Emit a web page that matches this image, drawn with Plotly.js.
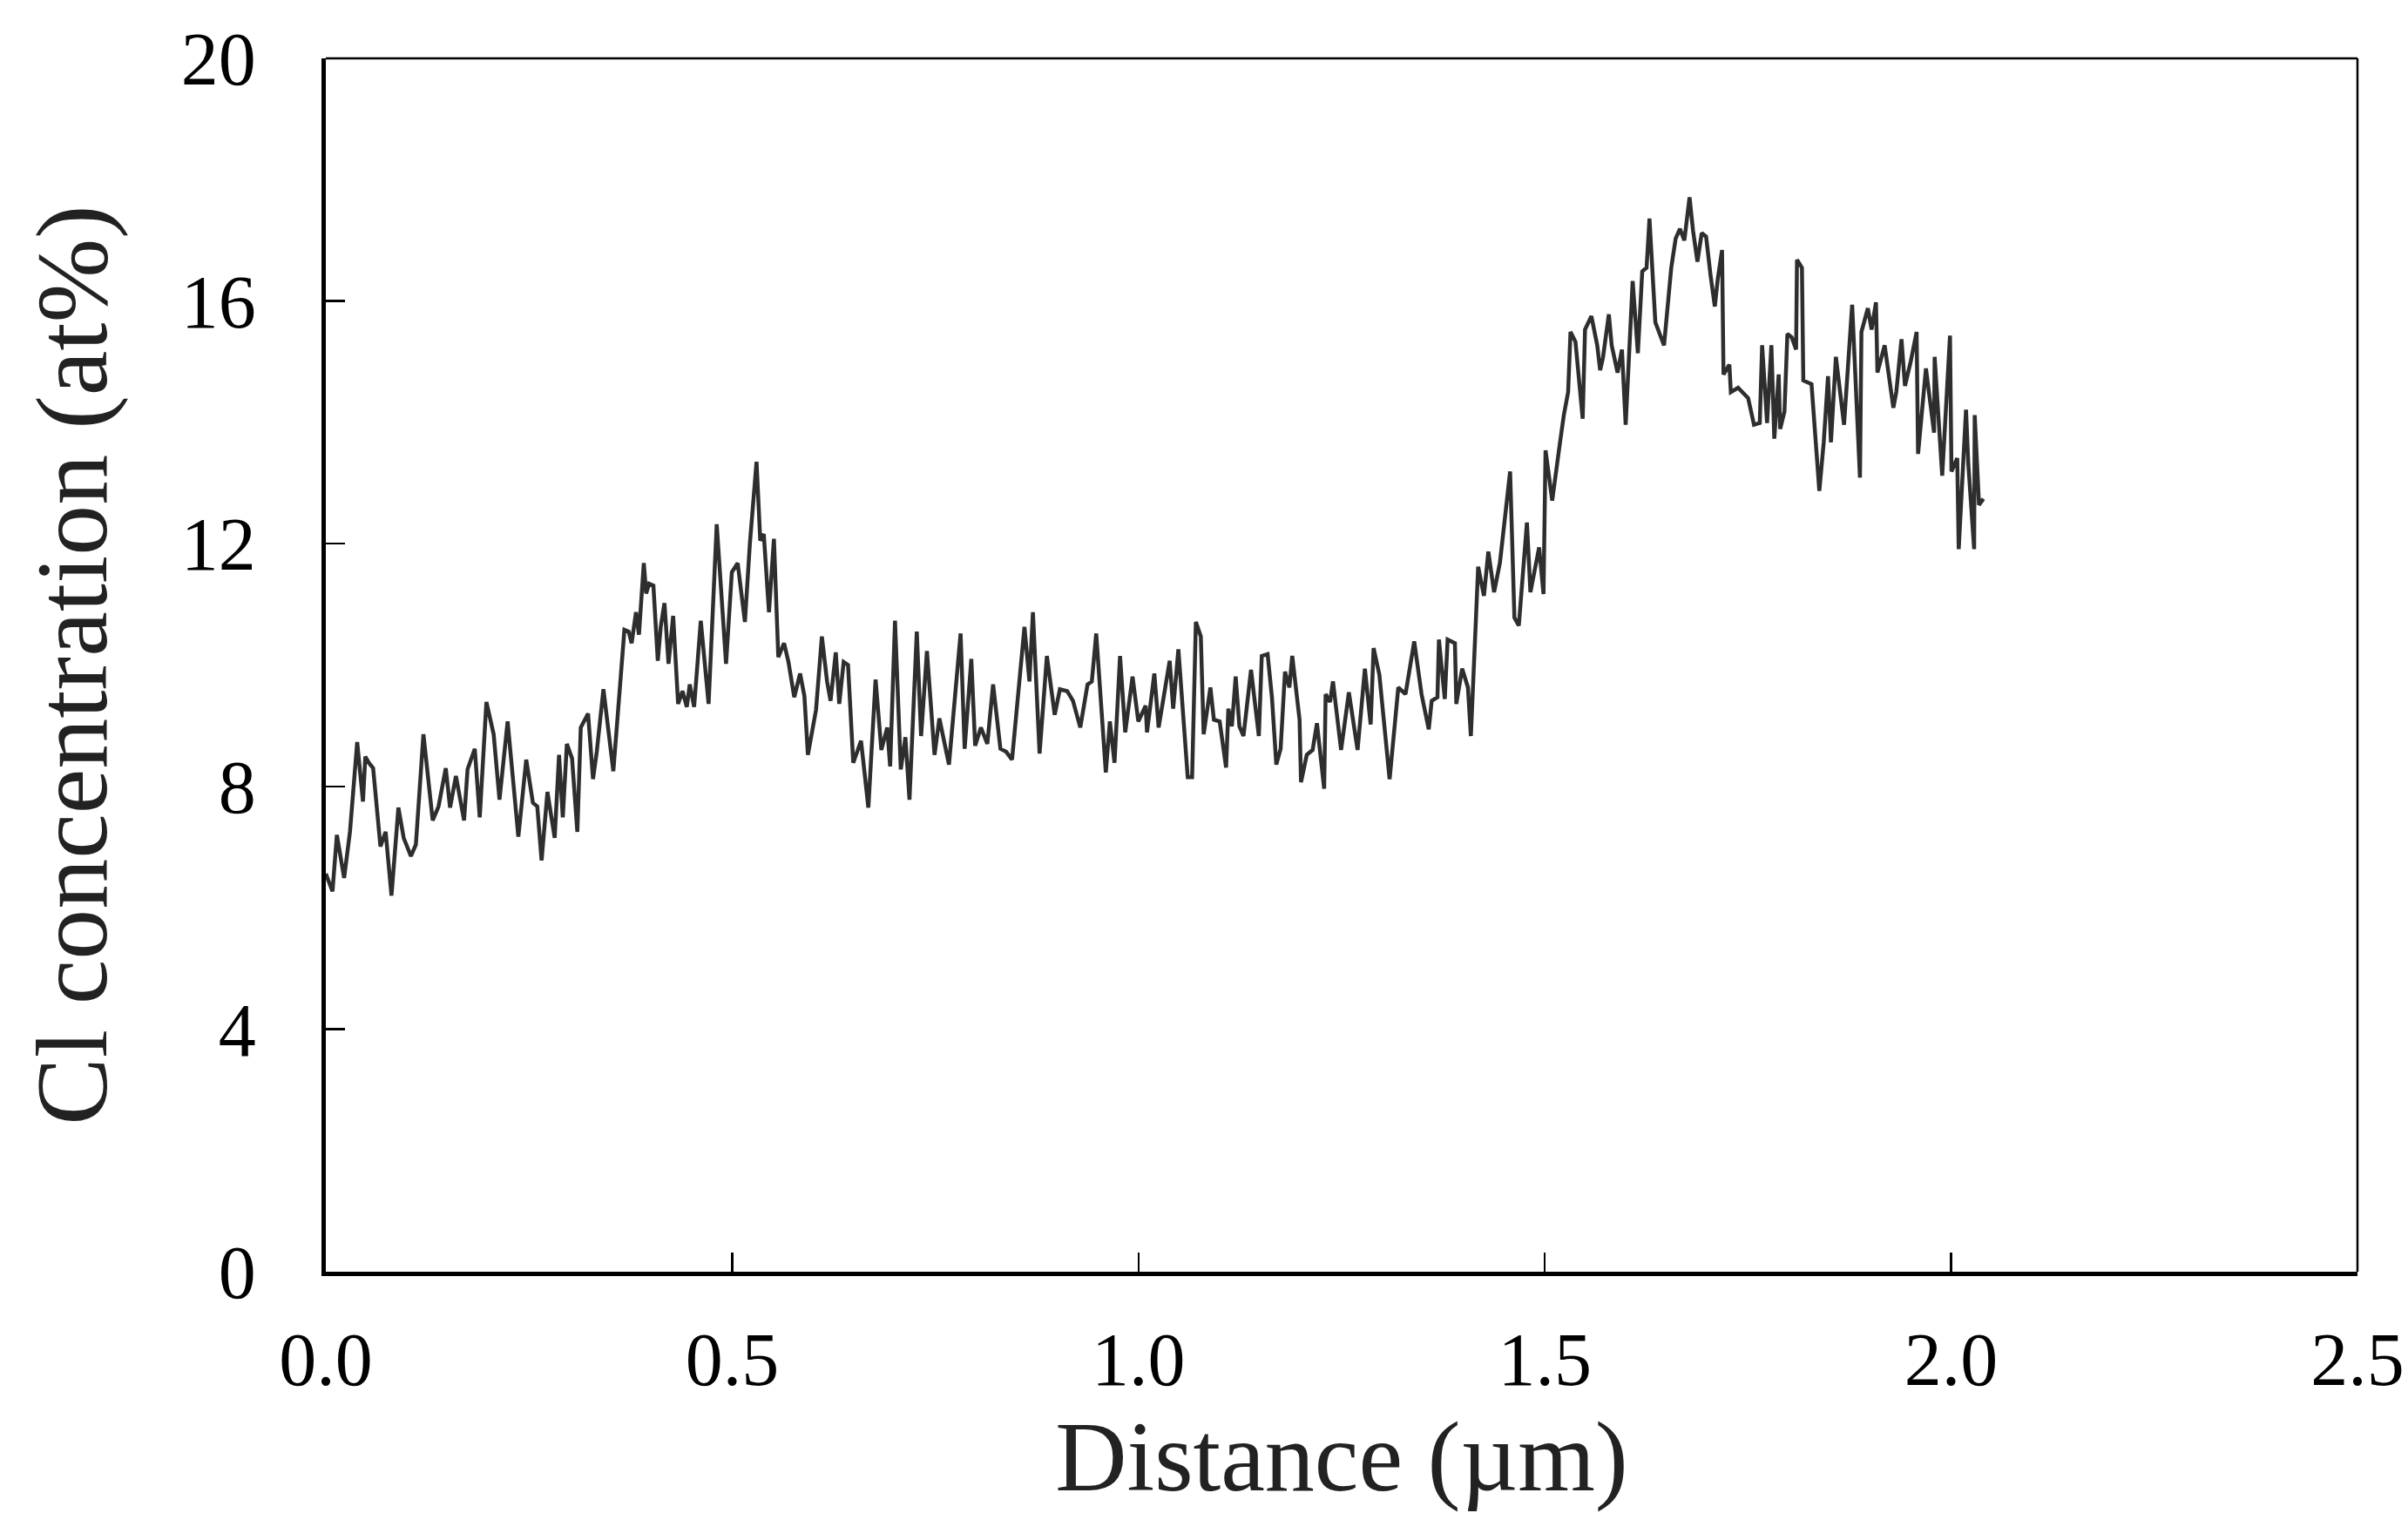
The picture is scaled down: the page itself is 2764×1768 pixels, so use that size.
<!DOCTYPE html>
<html>
<head>
<meta charset="utf-8">
<script src="https://cdn.plot.ly/plotly-3.0.1.min.js"></script>
<style>html,body{margin:0;padding:0;background:#fff;}#chart{width:2764px;height:1768px;}</style>
</head>
<body>
<div id="chart"></div>
<script>
// Distance (µm)
const distance = [
0.0000,0.0082,0.0136,0.0225,0.0297,0.0386,0.0457,0.0486,0.0529,0.0582,0.0672,0.0736,0.0808,0.0893,0.0958,0.1047,0.1108,0.1201,0.1315,0.1387,0.1476,0.1529,0.1601,0.1701,0.1744,0.1833,0.1894,0.1976,0.2065,0.2137,0.2237,0.2369,0.2466,0.2548,0.2602,0.2655,0.2727,0.2816,0.2870,0.2916,0.2966,0.3030,0.3095,0.3137,0.3227,0.3288,0.3334,0.3416,
0.3538,0.3602,0.3674,0.3727,0.3763,0.3817,0.3853,0.3913,0.3942,0.3978,0.4031,0.4085,0.4121,0.4167,0.4217,0.4274,0.4335,0.4389,0.4442,0.4478,0.4532,0.4614,0.4710,0.4810,0.4925,0.4996,0.5068,0.5157,0.5218,0.5300,0.5346,0.5389,0.5453,0.5514,0.5568,0.5639,0.5693,0.5764,0.5836,0.5889,0.5932,0.6032,0.6104,0.6168,0.6211,0.6275,0.6318,0.6372,0.6426,0.6490,0.6586,0.6676,0.6765,0.6836,0.6908,0.6944,
0.7004,0.7075,0.7132,0.7182,0.7272,0.7325,0.7397,0.7490,0.7550,0.7668,0.7811,0.7861,0.7943,0.7990,0.8061,0.8140,0.8211,0.8301,0.8372,0.8444,0.8515,0.8597,0.8658,0.8701,0.8783,0.8873,0.8969,0.9033,0.9123,0.9194,0.9284,0.9373,0.9426,0.9480,0.9598,0.9648,0.9705,0.9773,0.9837,0.9927,0.9998,1.0088,1.0105,1.0195,1.0248,1.0384,1.0427,1.0491,
1.0606,1.0660,1.0706,1.0767,1.0802,1.0885,1.0928,1.0999,1.1078,1.1106,1.1149,1.1196,1.1242,1.1292,1.1385,1.1481,1.1517,1.1589,1.1642,1.1696,1.1749,1.1803,1.1857,1.1892,1.1982,1.2000,1.2071,1.2143,1.2196,1.2285,1.2303,1.2357,1.2393,1.2493,1.2589,1.2696,1.2786,1.2857,1.2893,1.2964,1.3090,1.3197,1.3286,1.3393,1.3483,1.3572,1.3608,1.3679,1.3697,1.3769,1.3804,1.3894,1.3911,1.3983,1.4054,
1.4090,1.4180,1.4251,1.4305,1.4376,1.4448,1.4573,1.4626,1.4680,1.4780,1.4823,1.4930,1.4984,1.5009,1.5091,1.5180,1.5234,1.5287,1.5316,1.5377,1.5466,1.5495,1.5573,1.5645,1.5681,1.5716,1.5788,1.5823,1.5895,1.5949,1.5995,1.6081,1.6145,1.6199,1.6252,1.6288,1.6360,1.6467,1.6556,1.6610,1.6663,1.6717,1.6781,1.6824,1.6878,1.6931,1.6985,1.7039,1.7092,1.7128,1.7181,1.7199,1.7271,1.7289,1.7378,
1.7502,1.7574,1.7645,1.7674,1.7735,1.7788,1.7824,1.7878,1.7896,1.7949,1.7985,1.8039,1.8092,1.8103,1.8164,1.8181,1.8282,1.8378,1.8432,1.8485,1.8521,1.8582,1.8682,1.8782,1.8878,1.8896,1.8975,1.9021,1.9075,1.9093,1.9182,1.9289,1.9325,1.9389,1.9432,1.9504,1.9575,1.9593,1.9690,1.9790,1.9797,1.9890,1.9986,2.0004,2.0075,2.0093,2.0183,2.0211,2.0283,2.0290,2.0343,2.0397
];
// Cl concentration (at%)
const clConc = [
6.56,6.27,7.20,6.49,7.25,8.73,7.75,8.49,8.39,8.30,7.01,7.25,6.20,7.65,7.15,6.85,7.04,8.86,7.44,7.67,8.30,7.65,8.17,7.44,8.28,8.62,7.49,9.39,8.86,7.78,9.07,7.17,8.44,7.73,7.67,6.78,7.91,7.15,8.52,7.49,8.70,8.46,7.25,8.97,9.20,8.12,8.57,9.60,
8.25,9.31,10.58,10.55,10.36,10.87,10.50,11.68,11.18,11.34,11.31,10.07,10.63,11.02,10.02,10.81,9.36,9.57,9.31,9.68,9.31,10.73,9.36,12.32,10.02,11.53,11.68,10.71,12.00,13.35,12.05,12.16,10.87,12.08,10.13,10.36,10.05,9.47,9.86,9.49,8.52,9.26,10.47,9.73,9.41,10.21,9.36,10.05,10.00,8.39,8.75,7.65,9.76,8.60,8.97,8.33,
10.73,8.28,8.81,7.78,10.55,8.83,10.23,8.52,9.12,8.36,10.52,8.62,10.10,8.67,8.97,8.70,9.68,8.62,8.57,8.44,9.44,10.63,9.73,10.87,8.54,10.15,9.18,9.60,9.57,9.41,8.97,9.68,9.73,10.52,8.23,9.07,8.39,10.15,8.89,9.81,9.07,9.33,8.89,9.86,8.97,10.07,9.28,10.26,
8.15,8.15,10.71,10.47,8.86,9.63,9.10,9.07,8.31,9.28,8.99,9.81,8.99,8.83,9.92,8.83,10.15,10.18,9.47,8.36,8.62,9.89,9.63,10.15,9.10,8.07,8.52,8.60,9.04,7.96,9.52,9.39,9.73,8.60,9.55,8.60,9.94,9.02,10.28,9.84,8.12,9.63,9.52,10.39,9.52,8.94,9.41,9.47,10.42,9.44,10.42,10.36,9.36,9.94,9.63,
8.83,11.62,11.14,11.87,11.20,11.69,13.19,10.78,10.65,12.35,11.20,11.94,11.17,13.54,12.71,13.60,14.12,14.50,15.49,15.33,14.06,15.53,15.75,15.27,14.86,15.07,15.78,15.27,14.82,15.20,13.96,16.33,15.14,16.49,16.55,17.36,15.65,15.27,16.55,17.03,17.19,17.00,17.71,17.16,16.65,17.12,17.06,16.43,15.91,16.36,16.84,14.79,14.95,14.50,14.57,
14.40,13.96,13.99,15.27,13.99,15.27,13.73,14.79,13.89,14.18,15.46,15.40,15.20,16.68,16.55,14.69,14.63,12.87,13.67,14.76,13.67,15.08,13.96,15.94,13.09,15.49,15.88,15.53,15.98,14.82,15.27,14.24,14.50,15.37,14.60,15.01,15.49,13.48,14.89,13.83,15.08,13.12,15.43,13.19,13.41,11.91,14.21,13.32,11.91,14.12,12.64,12.74
];
const xTickVals = [0, 0.5, 1.0, 1.5, 2.0, 2.5];
const xTickText = ['0.0', '0.5', '1.0', '1.5', '2.0', '2.5'];
const yTickVals = [0, 4, 8, 12, 16, 20];
const yTickText = ['0', '4', '8', '12', '16', '20'];
const xTitle = 'Distance (µm)';
const yTitle = 'Cl concentration (at%)';

const FONT = 'Liberation Serif, Times New Roman, serif';

const trace = {
  x: distance,
  y: clConc,
  type: 'scatter',
  mode: 'lines',
  line: {color: '#2e2e2e', width: 4.5},
  showlegend: false,
  hoverinfo: 'x+y'
};

const layout = {
  width: 2764,
  height: 1768,
  margin: {l: 374, r: 58, t: 67, b: 308, pad: 0},
  paper_bgcolor: '#ffffff',
  plot_bgcolor: '#ffffff',
  font: {family: FONT, color: '#000000'},
  showlegend: false,
  xaxis: {
    range: [0, 2.5],
    tickmode: 'array',
    tickvals: xTickVals,
    ticktext: xTickText,
    ticks: 'inside',
    ticklen: 22,
    tickwidth: 2.5,
    tickcolor: '#000',
    showline: true,
    linewidth: 5,
    linecolor: '#000',
    mirror: false,
    showgrid: false,
    zeroline: false,
    tickfont: {family: FONT, size: 86, color: '#000'},
    ticklabelstandoff: 22,
    title: {text: xTitle, font: {family: FONT, size: 114, color: '#222'}, standoff: 24},
    automargin: false
  },
  yaxis: {
    range: [0, 20],
    tickmode: 'array',
    tickvals: yTickVals,
    ticktext: yTickText,
    ticks: 'inside',
    ticklen: 22,
    tickwidth: 2.5,
    tickcolor: '#000',
    showline: true,
    linewidth: 5,
    linecolor: '#000',
    mirror: false,
    showgrid: false,
    zeroline: false,
    tickfont: {family: FONT, size: 86, color: '#000'},
    ticklabelstandoff: 58,
    title: {text: yTitle, font: {family: FONT, size: 116, color: '#222'}, standoff: 48},
    automargin: false
  },
  shapes: [
    {type: 'line', xref: 'paper', yref: 'paper', x0: 0, x1: 1, y0: 1, y1: 1, line: {color: '#000', width: 2.5}},
    {type: 'line', xref: 'paper', yref: 'paper', x0: 1, x1: 1, y0: 0, y1: 1, line: {color: '#000', width: 2.5}}
  ]
};

Plotly.newPlot('chart', [trace], layout, {displayModeBar: false, staticPlot: true});
</script>
</body>
</html>
